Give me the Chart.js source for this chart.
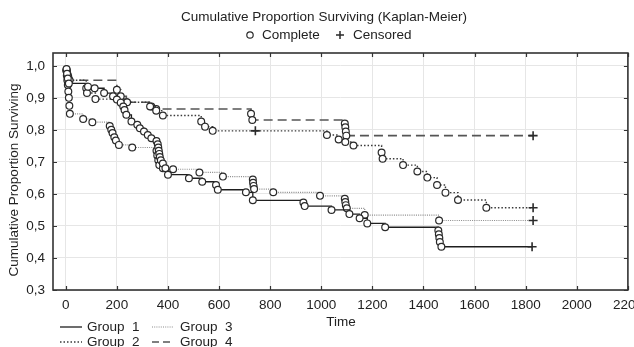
<!DOCTYPE html>
<html><head><meta charset="utf-8">
<script src="https://cdn.jsdelivr.net/npm/chart.js@4/dist/chart.umd.min.js"></script>
<style>html,body{margin:0;padding:0;background:#fff}#wrap{width:634px;height:347px;position:relative}</style>
</head><body><div id="wrap"><canvas id="c" width="634" height="347"></canvas></div>
<script>
const titleText = "Cumulative Proportion Surviving (Kaplan-Meier)";
const legendTop = ["Complete", "Censored"];
const xAxisTitle = "Time";
const yAxisTitle = "Cumulative Proportion Surviving";
const xTickValues = [0,200,400,600,800,1000,1200,1400,1600,1800,2000,2200];
const yTickValues = [0.3,0.4,0.5,0.6,0.7,0.8,0.9,1.0];
const yTickLabels = ["0,3","0,4","0,5","0,6","0,7","0,8","0,9","1,0"];
const groupNames = ["Group  1","Group  2","Group  3","Group  4"];

// each series starts at (0, 1.0); the times listed in gNCensored are censored (+), all others complete (o)
const g1Time = [0,3,5,8,12,87,113,150,185,200,215,225,230,237,257,280,290,306,321,335,355,360,362,364,366,368,372,380,390,400,482,534,588,595,705,732,930,935,1040,1110,1150,1180,1250,1458,1460,1462,1464,1470,1825];
const g1Surv = [1.0,0.99,0.975,0.96,0.945,0.935,0.93,0.915,0.905,0.895,0.885,0.873,0.862,0.847,0.826,0.816,0.805,0.795,0.784,0.774,0.765,0.755,0.745,0.735,0.725,0.715,0.705,0.695,0.68,0.66,0.649,0.638,0.628,0.613,0.605,0.58,0.573,0.562,0.55,0.537,0.524,0.508,0.496,0.486,0.474,0.462,0.45,0.435,0.435];
const g1Censored = [1825];

const g2Time = [0,3,6,10,15,80,83,116,240,330,354,380,530,545,575,742,1022,1068,1094,1126,1236,1240,1320,1376,1415,1453,1486,1535,1646,1829];
const g2Surv = [1.0,0.985,0.975,0.965,0.955,0.93,0.915,0.896,0.886,0.873,0.86,0.845,0.826,0.81,0.797,0.797,0.784,0.77,0.762,0.751,0.729,0.71,0.69,0.67,0.651,0.628,0.604,0.581,0.557,0.557];
const g2Censored = [742, 1829];

const g3Time = [0,2,4,6,8,10,12,14,16,68,104,172,178,183,190,196,208,260,355,358,362,366,380,420,523,615,732,733,735,737,812,995,1092,1094,1096,1100,1170,1461,1829];
const g3Surv = [1.0,0.985,0.97,0.955,0.94,0.92,0.9,0.875,0.85,0.834,0.824,0.812,0.8,0.79,0.777,0.767,0.753,0.745,0.735,0.72,0.705,0.69,0.68,0.677,0.667,0.654,0.645,0.635,0.625,0.615,0.605,0.594,0.585,0.575,0.565,0.555,0.534,0.517,0.517];
const g3Censored = [1829];

const g4Time = [0,4,8,12,200,215,237,335,354,725,730,1092,1094,1096,1098,1829];
const g4Surv = [1.0,0.985,0.97,0.955,0.925,0.905,0.886,0.873,0.865,0.85,0.831,0.82,0.808,0.795,0.782,0.782];
const g4Censored = [1829];

const groupStyles = [
  {color:'#1e1e1e', dash:[], width:1.3},
  {color:'#3a3a3a', dash:[1.5,2], width:1.4},
  {color:'#8a8a8a', dash:[1,1.2], width:1.2},
  {color:'#555555', dash:[9,5], width:1.6}
];

function mkDataset(name, t, s, cens, sty){
  const kind = t.map((v, i) => i === 0 ? 'n' : (cens.includes(v) ? '+' : 'o'));
  return {
    label: name,
    data: t.map((v, i) => ({x: v, y: s[i]})),
    stepped: 'before',
    borderColor: sty.color,
    borderDash: sty.dash,
    borderWidth: sty.width,
    fill: false,
    pointStyle: c => kind[c.dataIndex] === '+' ? 'cross' : 'circle',
    pointRadius: c => kind[c.dataIndex] === 'n' ? 0 : (kind[c.dataIndex] === '+' ? 4.5 : 3.4),
    pointBackgroundColor: '#ffffff',
    pointBorderColor: '#2a2a2a',
    pointBorderWidth: c => kind[c.dataIndex] === '+' ? 1.6 : 1.2,
    pointHoverRadius: 0
  };
}

const FONT = '"Liberation Sans", Arial, sans-serif';
const FS = 13.5;

const decor = {
  id: 'decor',
  afterDraw(chart){
    const ctx = chart.ctx, a = chart.chartArea;
    const xs = chart.scales.x, ys = chart.scales.y;
    ctx.save();
    ctx.strokeStyle = '#333'; ctx.lineWidth = 1.6;
    ctx.strokeRect(a.left, a.top, a.right - a.left, a.bottom - a.top);
    ctx.lineWidth = 1.2;
    ctx.beginPath();
    xTickValues.forEach(v => {
      const px = Math.round(xs.getPixelForValue(v)) + 0.5;
      ctx.moveTo(px, a.bottom); ctx.lineTo(px, a.bottom - 4);
      ctx.moveTo(px, a.top); ctx.lineTo(px, a.top + 4);
    });
    yTickValues.forEach(v => {
      const py = Math.round(ys.getPixelForValue(v)) + 0.5;
      ctx.moveTo(a.left, py); ctx.lineTo(a.left + 4, py);
      ctx.moveTo(a.right, py); ctx.lineTo(a.right - 4, py);
    });
    ctx.stroke();
    ctx.fillStyle = '#222';
    ctx.font = FS + 'px ' + FONT;
    ctx.textAlign = 'center'; ctx.textBaseline = 'middle';
    ctx.fillText(titleText, 324, 17);
    ctx.textAlign = 'left';
    ctx.beginPath(); ctx.lineWidth = 1.2; ctx.strokeStyle = '#2a2a2a';
    ctx.arc(250, 35, 3.2, 0, Math.PI*2); ctx.stroke();
    ctx.fillText(legendTop[0], 262, 35);
    ctx.beginPath(); ctx.lineWidth = 1.5;
    ctx.moveTo(336, 35); ctx.lineTo(344, 35); ctx.moveTo(340, 31); ctx.lineTo(340, 39); ctx.stroke();
    ctx.fillText(legendTop[1], 353, 35);
    ctx.textAlign = 'center';
    ctx.fillText(xAxisTitle, 341, 322);
    ctx.save();
    ctx.translate(14, 180); ctx.rotate(-Math.PI/2);
    ctx.fillText(yAxisTitle, 0, 0);
    ctx.restore();
    const pos = [[60,327],[60,342],[152,327],[152,342]];
    const tpos = [[87,327],[87,342],[180,327],[180,342]];
    ctx.textAlign = 'left';
    groupStyles.forEach((st, i) => {
      ctx.beginPath();
      ctx.strokeStyle = st.color; ctx.lineWidth = st.width;
      ctx.setLineDash(i === 3 ? [7,4] : st.dash);
      ctx.moveTo(pos[i][0], pos[i][1]); ctx.lineTo(pos[i][0] + 22, pos[i][1]);
      ctx.stroke();
      ctx.setLineDash([]);
      ctx.fillStyle = '#222';
      ctx.fillText(groupNames[i], tpos[i][0], tpos[i][1]);
    });
    ctx.restore();
  }
};

new Chart(document.getElementById('c'), {
  type: 'line',
  data: {
    datasets: [
      mkDataset(groupNames[0], g1Time, g1Surv, g1Censored, groupStyles[0]),
      mkDataset(groupNames[1], g2Time, g2Surv, g2Censored, groupStyles[1]),
      mkDataset(groupNames[2], g3Time, g3Surv, g3Censored, groupStyles[2]),
      mkDataset(groupNames[3], g4Time, g4Surv, g4Censored, groupStyles[3])
    ]
  },
  options: {
    responsive: false,
    animation: false,
    devicePixelRatio: 1,
    layout: { padding: { top: 53, right: 5, left: 0, bottom: 0 } },
    plugins: { legend: { display: false }, title: { display: false }, tooltip: { enabled: false } },
    scales: {
      x: {
        type: 'linear', min: -50, max: 2200,
        afterBuildTicks: s => { s.ticks = xTickValues.map(v => ({value: v})); },
        afterFit: s => { s.height = 57; s.paddingLeft = 0; s.paddingRight = 0; },
        grid: { color: '#e6e6e6', lineWidth: 1, drawTicks: false },
        border: { display: false },
        ticks: { padding: 7, color: '#222', font: { family: FONT, size: FS }, maxRotation: 0, autoSkip: false, callback: v => String(v) }
      },
      y: {
        type: 'linear', min: 0.3, max: 1.04,
        afterBuildTicks: s => { s.ticks = yTickValues.map(v => ({value: v})); },
        afterFit: s => { s.width = 53; s.paddingTop = 0; s.paddingBottom = 0; },
        grid: { color: '#e6e6e6', lineWidth: 1, drawTicks: false },
        border: { display: false },
        ticks: { padding: 8, color: '#222', font: { family: FONT, size: FS }, autoSkip: false,
          callback: (v) => { const i = yTickValues.findIndex(t => Math.abs(t - v) < 1e-6); return i >= 0 ? yTickLabels[i] : ''; } }
      }
    }
  },
  plugins: [decor]
});
</script></body></html>
